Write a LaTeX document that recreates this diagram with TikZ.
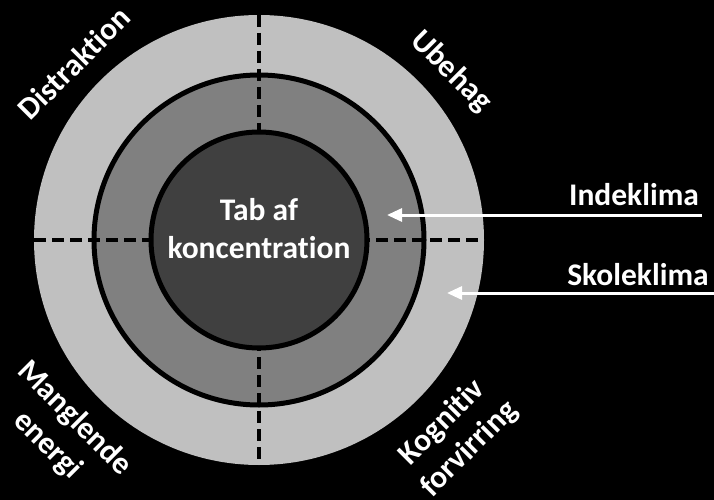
\documentclass[tikz,border=0pt]{standalone}
\usepackage{fontspec}
\setmainfont{Carlito}[Ligatures=NoCommon]
\usetikzlibrary{arrows.meta}
\tikzset{
  lbl/.style={text=white,font=\bfseries\fontsize{31.5}{38}\selectfont,align=center,inner sep=0pt},
  divline/.style={black,line width=4.5pt,dash pattern=on 12pt off 6pt},
  ring/.style={draw=black,line width=5pt},
  pointer/.style={white,line width=3pt,-{Triangle[length=15pt,width=13pt]}}
}
\begin{document}
\begin{tikzpicture}[x=1pt,y=-1pt]
\fill[black] (0,0) rectangle (714,500);
\useasboundingbox (0,0) rectangle (714,500);
\coordinate (c) at (259,240);
\fill[fill={rgb,255:red,192;green,192;blue,192}] (c) circle (225);
\filldraw[ring,fill={rgb,255:red,128;green,128;blue,128}] (c) circle (165);
\coordinate (vt) at (259,15);
\coordinate (vb) at (259,465);
\coordinate (hl) at (34,240);
\coordinate (hr) at (484,240);
\draw[divline] (vt) -- (vb);
\draw[divline] (hl) -- (hr);
\filldraw[ring,fill={rgb,255:red,64;green,64;blue,64}] (c) circle (108);
\node[lbl] (center) at (259,229) {Tab af\\koncentration};
\node[lbl,rotate=45] (distr) at (74,63) {Distraktion};
\node[lbl,rotate=-45] (ubehag) at (451,72) {Ubehag};
\node[lbl,rotate=-45] (mangl) at (61,432) {Manglende\\energi};
\node[lbl,rotate=45] (kogn) at (456,436) {Kognitiv\\forvirring};
\node[lbl] (inde) at (634,195) {Indeklima};
\node[lbl] (skole) at (638,275) {Skoleklima};
\coordinate (a1s) at (702,215);
\coordinate (a1e) at (387,215);
\coordinate (a2s) at (714,293);
\coordinate (a2e) at (447,293);
\draw[pointer] (a1s) -- (a1e);
\draw[pointer] (a2s) -- (a2e);
\end{tikzpicture}
\end{document}
